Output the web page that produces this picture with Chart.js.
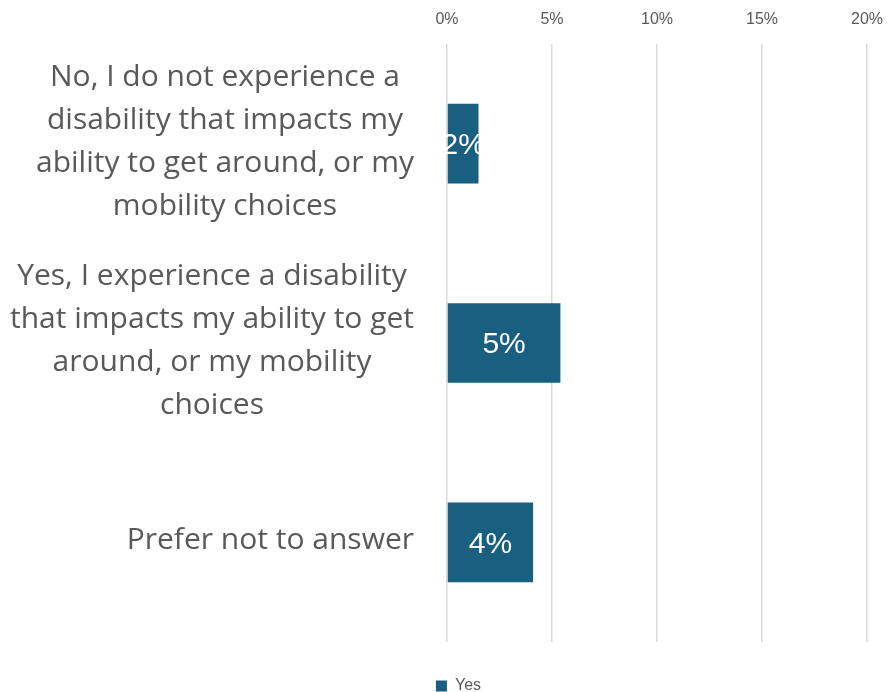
<!DOCTYPE html>
<html>
<head>
<meta charset="utf-8">
<script src="https://cdn.jsdelivr.net/npm/chart.js@4/dist/chart.umd.min.js"></script>
<style>
  html, body { margin: 0; padding: 0; background: #ffffff; }
  #wrap { width: 888px; height: 692px; }
</style>
</head>
<body>
<div id="wrap"><canvas id="chart" width="888" height="692"></canvas></div>
<script>
// data
const categoryLines = [
  ['No, I do not experience a', 'disability that impacts my', 'ability to get around, or my', 'mobility choices'],
  ['Yes, I experience a disability', 'that impacts my ability to get', 'around, or my mobility', 'choices'],
  ['Prefer not to answer']
]
const categories = categoryLines.map(lines => lines.join(' '))
const yesValues = [1.5, 5.4, 4.1]
const xTicks = [0, 5, 10, 15, 20]
const seriesName = 'Yes'

const BAR_COLOR = '#185F80'
const TEXT_COLOR = '#595959'
const GRID_COLOR = '#D9D9D9'
const LABEL_FONT = '"Open Sans", sans-serif'
const SMALL_FONT = '"Liberation Sans", Arial, sans-serif'
const LINE_GAP = 43

// category labels: block right-aligned, lines centred inside the block
const categoryLabelPlugin = {
  id: 'categoryLabels',
  afterDraw(chart) {
    const ctx = chart.ctx
    const yScale = chart.scales.y
    const blockRight = chart.chartArea.left - 33
    ctx.save()
    ctx.font = '30px ' + LABEL_FONT
    ctx.fillStyle = TEXT_COLOR
    ctx.textAlign = 'center'
    ctx.textBaseline = 'middle'
    categoryLines.forEach((lines, i) => {
      const yc = yScale.getPixelForValue(i) - 2
      const widest = Math.max(...lines.map(l => ctx.measureText(l).width))
      const xc = blockRight - widest / 2
      const y0 = yc - (lines.length - 1) * LINE_GAP / 2
      lines.forEach((line, j) => ctx.fillText(line, xc, y0 + j * LINE_GAP))
    })
    ctx.restore()
  }
}

// value labels centred on each bar
const barValuePlugin = {
  id: 'barValues',
  afterDatasetsDraw(chart) {
    const ctx = chart.ctx
    const meta = chart.getDatasetMeta(0)
    ctx.save()
    ctx.font = '30px ' + SMALL_FONT
    ctx.fillStyle = '#FFFFFF'
    ctx.textAlign = 'center'
    ctx.textBaseline = 'middle'
    meta.data.forEach((bar, i) => {
      const { x, y, base } = bar.getProps(['x', 'y', 'base'], true)
      ctx.fillText(Math.round(yesValues[i]) + '%', (x + base) / 2, y + 2)
    })
    ctx.restore()
  }
}

new Chart(document.getElementById('chart'), {
  type: 'bar',
  data: {
    labels: categories,
    datasets: [{
      label: seriesName,
      data: yesValues,
      backgroundColor: BAR_COLOR,
      borderWidth: 0,
      barPercentage: 0.4,
      categoryPercentage: 1
    }]
  },
  options: {
    indexAxis: 'y',
    responsive: false,
    animation: false,
    layout: {
      padding: { left: 50, right: 21, top: 0, bottom: -12 }
    },
    plugins: {
      legend: {
        position: 'bottom',
        labels: {
          boxWidth: 11,
          boxHeight: 11,
          padding: 36,
          color: TEXT_COLOR,
          font: { family: SMALL_FONT, size: 16 }
        }
      },
      tooltip: { enabled: false }
    },
    scales: {
      x: {
        position: 'top',
        min: 0,
        max: 20,
        afterBuildTicks(scale) {
          scale.ticks = xTicks.map(v => ({ value: v }))
        },
        afterFit(scale) {
          scale.height = 44
          // the end labels may hang over the plot edges
          scale.paddingLeft = 0
          scale.paddingRight = 0
        },
        ticks: {
          padding: 15,
          color: TEXT_COLOR,
          font: { family: SMALL_FONT, size: 16 },
          callback: v => v + '%'
        },
        grid: {
          color: GRID_COLOR,
          lineWidth: 1.5,
          drawTicks: false
        },
        border: { display: false }
      },
      y: {
        afterFit(scale) {
          scale.width = 397
        },
        ticks: { display: false },
        grid: { display: false, drawTicks: false },
        border: { display: false }
      }
    }
  },
  plugins: [categoryLabelPlugin, barValuePlugin]
})
</script>
</body>
</html>
